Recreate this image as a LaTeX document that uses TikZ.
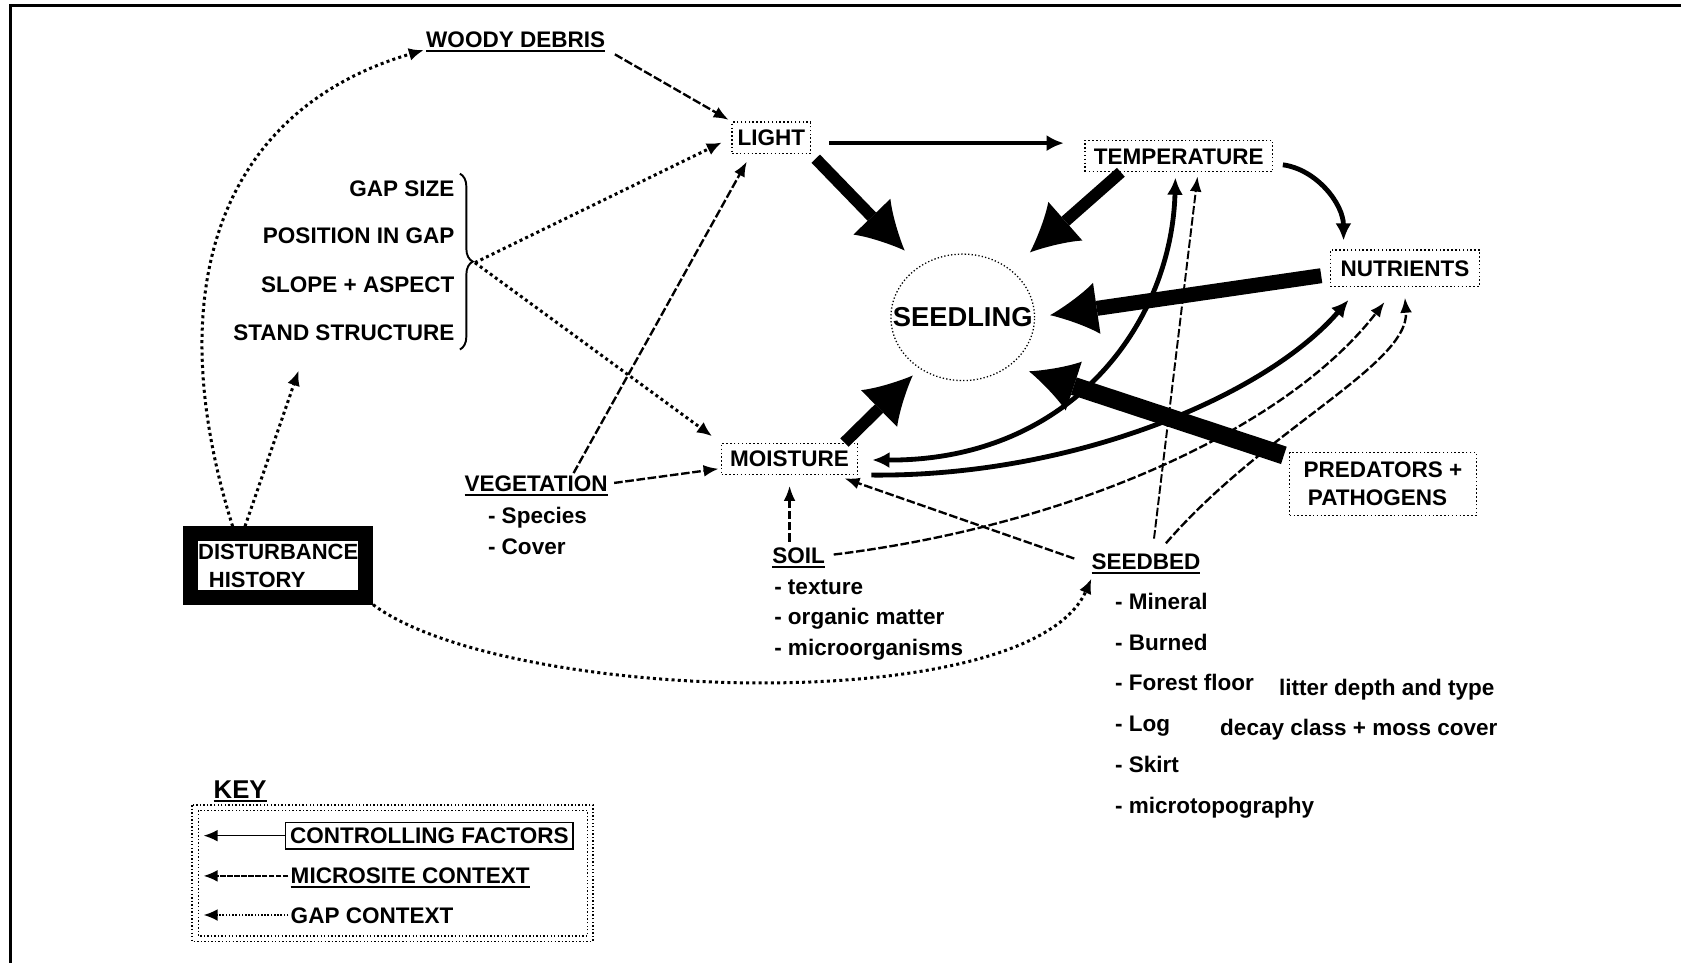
\documentclass[tikz,border=0pt]{standalone}
\usepackage{fontspec}
\setmainfont{Liberation Sans}
\usetikzlibrary{
  arrows.meta,
  calc,
  decorations.pathreplacing,
  positioning,
  shapes.geometric,
}
\newcommand\capfont{\fontsize{21}{26}\selectfont\bfseries}
\newcommand\listfont{\fontsize{21}{26}\selectfont\bfseries}
\newcommand\undertext[1]{\setbox0\hbox{#1}\rlap{\rule[-4pt]{\wd0}{2pt}}\box0}

\tikzstyle{factorbox} = [
  rectangle,
  draw,
  line width=1.4pt,
  dash pattern=on 1.4pt off 2.2pt,
  inner xsep=5pt,
  inner ysep=7pt,
  font=\capfont,
]
\tikzstyle{factor} = [factorbox, text height=15pt, text depth=0pt]
\tikzstyle{textlabel} = [inner sep=2pt, text height=15pt, text depth=0pt, font=\capfont]
\tikzstyle{gapitem} = [textlabel, anchor=east]
\tikzstyle{listitem} = [anchor=west, inner sep=0pt, text height=16pt, text depth=5pt, font=\listfont]
\tikzstyle{ctrllink} = [-{Latex[length=16pt,width=15pt]}, line width=4.5pt]
\tikzstyle{bigarrow} = [-{Latex[length=44pt,width=48pt,line width=0pt]}, line width=12pt]
\tikzstyle{microlink} = [-{Latex[length=14pt,width=11pt]}, line width=2.2pt, dash pattern=on 8pt off 2.5pt]
\tikzstyle{gaplink} = [-{Latex[length=14pt,width=12pt]}, line width=2.8pt, dash pattern=on 2.8pt off 3pt]
\tikzstyle{keylink} = [-{Latex[length=13pt,width=11pt]}, line width=1.5pt]
\tikzstyle{keybox} = [line width=1.3pt, dash pattern=on 1.3pt off 2pt]

\begin{document}
\begin{tikzpicture}[x=1pt, y=-1pt]
  \useasboundingbox (0,0) rectangle (1568,898);

  % page frame
  \draw[line width=3pt] (1568,5) -- (10,5) -- (10,898);

  % controlling factors
  \node[factor, minimum width=73pt] (light) at (719.5,128.5) {LIGHT};
  \node[factor, minimum width=175pt] (temp) at (1099.5,145.5) {TEMPERATURE};
  \node[factor, minimum width=139pt, minimum height=34pt] (nutr) at (1310.5,250) {NUTRIENTS};
  \node[factor, minimum width=127pt] (moist) at (736.5,428) {MOISTURE};
  \node[factorbox, minimum width=174pt, minimum height=59pt, align=left] (pred) at (1290,451.5) {PREDATORS +\\\hspace*{4pt}PATHOGENS};
  \node[ellipse, draw, line width=1.2pt, dash pattern=on 1.2pt off 2pt, minimum width=134pt, minimum height=118pt, inner xsep=-30pt, inner ysep=0pt, font=\fontsize{25.5}{30}\selectfont\bfseries] (seedling) at (898,296) {SEEDLING};

  \node[rectangle, draw, line width=14pt, minimum width=163pt, minimum height=59pt, inner sep=0pt, align=left, font=\fontsize{20.5}{26}\selectfont\bfseries] (dist) at (259.5,527.5) {DISTURBANCE\\\hspace*{10pt}HISTORY};

  % microsite context
  \node[textlabel] (woody) at (481,37) {\undertext{WOODY DEBRIS}};
  \node[textlabel] (veg) at (500,451) {\undertext{VEGETATION}};
  \node[textlabel] (soil) at (745,518) {\undertext{SOIL}};
  \node[textlabel] (seedbed) at (1069,524) {\undertext{SEEDBED}};

  \node[listitem] (veg1) at (455,483) {- Species};
  \node[listitem] (veg2) [below=29pt of veg1.west, anchor=west] {- Cover};

  \node[listitem] (soil1) at (722,549) {- texture};
  \node[listitem] (soil2) [below=28pt of soil1.west, anchor=west] {- organic matter};
  \node[listitem] (soil3) [below=29pt of soil2.west, anchor=west] {- microorganisms};

  \node[listitem] (bed1) at (1040,563) {- Mineral};
  \node[listitem] (bed2) [below=38pt of bed1.west, anchor=west] {- Burned};
  \node[listitem] (bed3) [below=38pt of bed2.west, anchor=west] {- Forest floor};
  \node[listitem] (bed4) [below=38pt of bed3.west, anchor=west] {- Log};
  \node[listitem] (bed5) [below=38pt of bed4.west, anchor=west] {- Skirt};
  \node[listitem] (bed6) [below=38pt of bed5.west, anchor=west] {- microtopography};
  \node[listitem] (floor) at (1193,643) {litter depth and type};
  \node[listitem] (log) at (1138,681) {decay class + moss cover};

  % gap context
  \node[gapitem] (gap1) at (426,176) {GAP SIZE};
  \node[gapitem] (gap2) at (426,220) {POSITION IN GAP};
  \node[gapitem] (gap3) at (426,265) {SLOPE + ASPECT};
  \node[gapitem] (gap4) at (426,310) {STAND STRUCTURE};
  \draw[line width=1.8pt, decorate, decoration={brace, amplitude=12pt}] (429,162) -- (429,326);
  \coordinate (bracetip) at (443,245);

  % disturbance links
  \draw[gaplink] ([xshift=-42.5pt]dist.north) .. controls (145,260) and (212,100) .. (woody.south west);
  \draw[gaplink] ([xshift=-31pt]dist.north) -- ([xshift=63pt,yshift=-26pt]gap4.south west);
  \draw[gaplink] (dist.south east) .. controls (470,655) and (960,672) .. ([xshift=2pt,yshift=-6pt]seedbed.south west);
  \draw[gaplink, shorten >=10pt] (bracetip) -- (light.west);
  \draw[gaplink, shorten >=10pt] (bracetip) -- (moist.north west);

  % microsite links
  \draw[microlink, shorten <=8pt, shorten >=3pt] (woody.south east) -- (light.north west);
  \draw[microlink, shorten >=8pt] ([xshift=35pt]veg.north) -- ([xshift=-19pt]light.south);
  \draw[microlink, shorten <=4pt, shorten >=2pt] (veg.east) -- ([yshift=-9pt]moist.west);
  \draw[microlink, shorten <=3pt, shorten >=10pt] (soil.north -| moist.south) -- (moist.south);
  \draw[microlink, shorten <=6pt] (soil.east) .. controls (1000,490) and (1200,400) .. ([xshift=-19pt,yshift=-14pt]nutr.south);
  \draw[microlink] ([xshift=-14pt,yshift=3pt]seedbed.west) -- ([xshift=-13pt,yshift=-3pt]moist.south east);
  \draw[microlink, line width=1.8pt, shorten <=12pt, shorten >=4pt] ([xshift=6pt]seedbed.north) -- ([xshift=18pt]temp.south);
  \draw[microlink, shorten <=10pt] ([xshift=12pt]seedbed.north) .. controls (1180,400) and (1315,340) .. ([yshift=-10pt]nutr.south);

  % controlling links
  \coordinate (lt) at ([yshift=-5pt]light.east);
  \draw[ctrllink, line width=4pt, shorten <=17pt, shorten >=19pt] (lt) -- (lt -| temp.west);
  \draw[ctrllink, shorten <=9pt, shorten >=8pt] ([yshift=-7pt]temp.east) .. controls (1228,158) and (1253,190) .. ([xshift=13pt]nutr.north west);
  \draw[ctrllink, {Latex[length=16pt,width=15pt]}-{Latex[length=16pt,width=15pt]}, shorten <=13pt, shorten >=5pt] ([yshift=-1pt]moist.east) .. controls (1000,430) and (1093,300) .. ([xshift=-3pt]temp.south);
  \draw[ctrllink, shorten <=12pt, shorten >=16pt] ([yshift=-15pt]moist.east) .. controls (1000,445) and (1180,370) .. ([xshift=28pt]nutr.south west);

  % arrows into the seedling
  \draw[bigarrow, line width=11pt, shorten <=6pt, shorten >=20pt] (light.south east) -- (seedling.130);
  \draw[bigarrow, line width=11pt, shorten >=24pt] ([xshift=-54pt]temp.south) -- (seedling.45);
  \draw[bigarrow, line width=14pt, shorten <=8pt, shorten >=14pt] ([yshift=-6pt]nutr.west) -- (seedling.east);
  \draw[bigarrow, line width=17pt, shorten <=5pt, shorten >=18pt] ([yshift=-5pt]pred.north west) -- (seedling.-45);
  \draw[bigarrow, line width=11pt, shorten >=9pt] ([xshift=-13pt]moist.north east) -- (seedling.-130);

  % key
  \node[textlabel, font=\fontsize{24}{28}\selectfont\bfseries] (key) at (224,737) {\undertext{KEY}};
  \draw[keybox] (179,751) rectangle (553,878);
  \draw[keybox] (185,756) rectangle (548,873);
  \node[textlabel, draw, line width=1.2pt, inner xsep=4pt, inner ysep=5pt, anchor=west] (kctrl) at (266,779.5) {CONTROLLING FACTORS};
  \node[textlabel, anchor=west] (kmicro) at (269,817) {\undertext{MICROSITE CONTEXT}};
  \node[textlabel, anchor=west] (kgap) at (269,853.5) {GAP CONTEXT};
  \coordinate (kc) at (190,779.5);
  \coordinate (km) at (190,817);
  \coordinate (kg) at (190,853.5);
  \draw[keylink] (kctrl.west) -- (kc);
  \draw[keylink, dash pattern=on 5pt off 1.5pt] (kmicro.west) -- (km);
  \draw[keylink, dash pattern=on 1.5pt off 1.5pt] (kgap.west) -- (kg);
\end{tikzpicture}
\end{document}
